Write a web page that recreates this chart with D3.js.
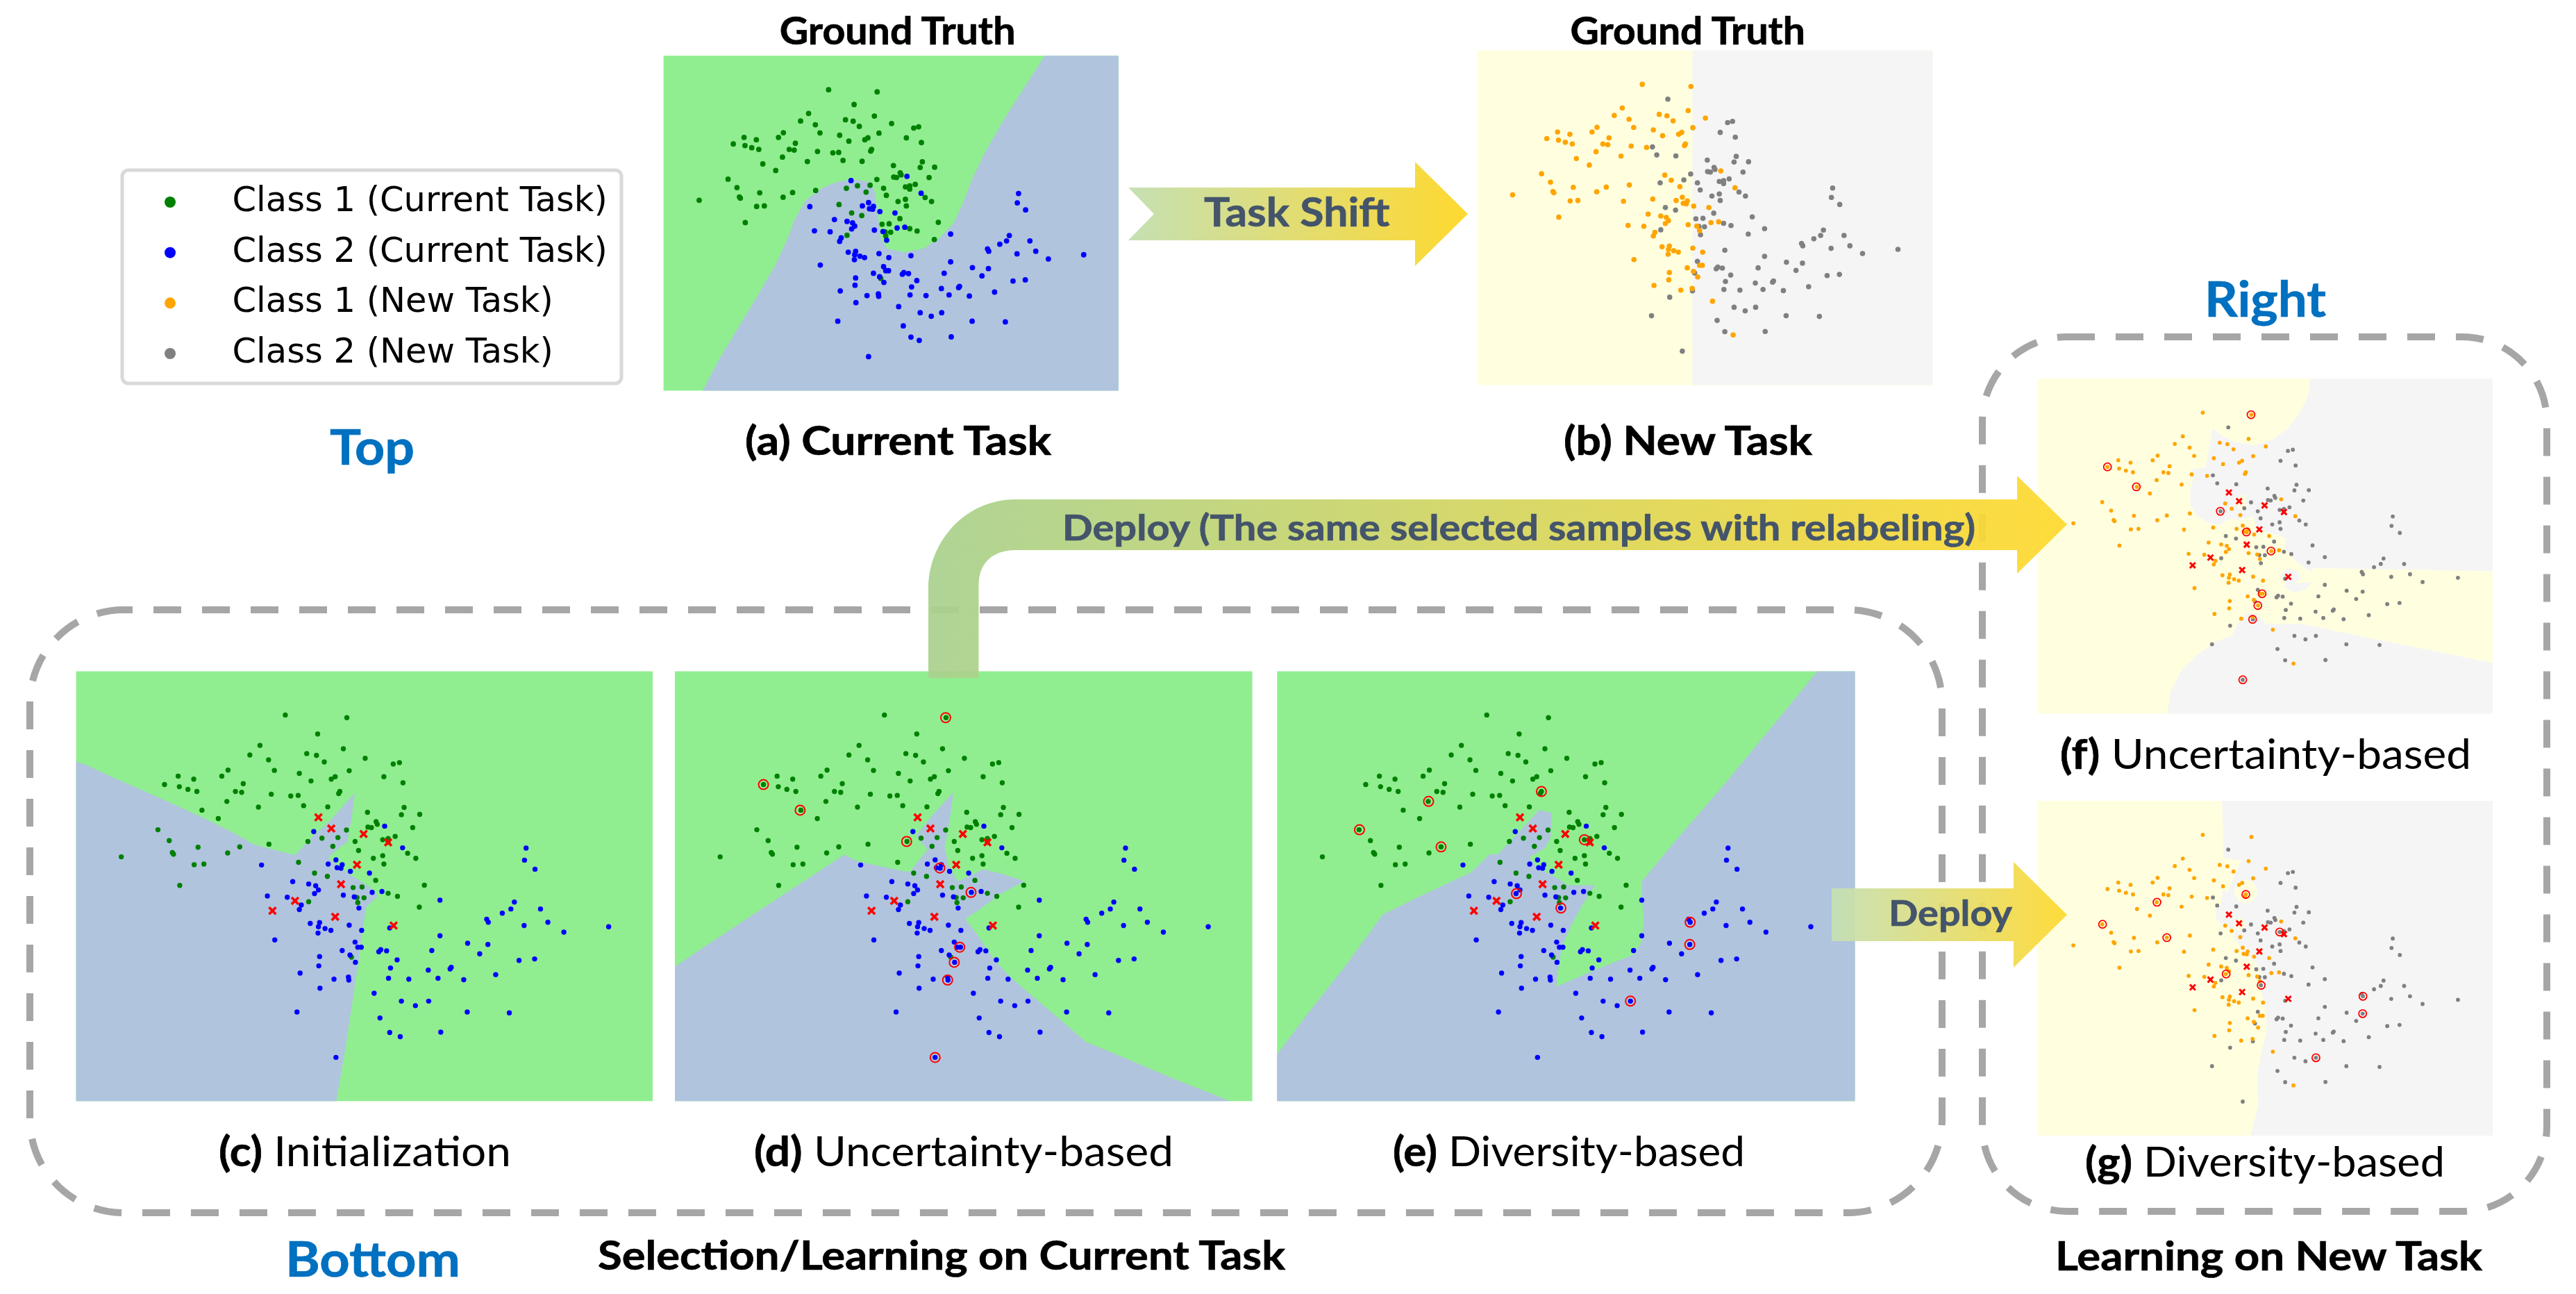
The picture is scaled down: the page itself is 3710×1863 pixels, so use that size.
<!DOCTYPE html>
<html><head><meta charset="utf-8">
<script src="https://cdn.jsdelivr.net/npm/d3@7/dist/d3.min.js"></script>
<style>html,body{margin:0;padding:0;background:#fff}svg{display:block}</style>
</head><body><div id="chart"></div>
<script>
// ---- data: projected sample positions, grouped by label on the current task / the new task
const class1ToClass1 = [[572,183],[730,192],[507,284],[721,295],[481,316],[627,311],[652,317],[529,332],[672,339],[777,327],[544,367],[736,368],[425,366],[409,386],[297,386],[337,396],[608,377],[700,388],[690,396],[638,402],[262,414],[300,421],[322,430],[345,437],[464,411],[444,437],[460,440],[536,446],[586,452],[712,437],[709,444],[422,470],[358,499],[503,489],[400,527],[245,564],[666,592],[274,600],[530,612],[348,622],[455,621],[694,619],[424,641],[282,640],[285,645],[151,654],[606,672],[338,680],[363,678],[301,749],[758,806]];
const class1ToClass2 = [[655,246],[849,346],[865,341],[825,388],[874,408],[605,450],[619,484],[681,488],[877,490],[783,506],[870,514],[917,513],[805,537],[808,546],[784,555],[793,557],[729,565],[899,557],[707,590],[630,603],[751,603],[836,593],[854,586],[822,597],[836,606],[760,633],[886,642],[798,659],[822,650],[907,659],[825,678],[647,708],[680,719],[804,732],[929,748],[746,756],[769,754],[836,775],[860,785],[756,789],[774,790],[632,803],[916,821],[742,987]];
const class2ToClass1 = [[827,552],[645,570],[873,624],[702,664],[682,678],[718,680],[705,690],[715,692],[511,681],[739,702],[788,708],[591,736],[632,744],[650,750],[657,764],[647,776],[795,772],[820,769],[721,781],[749,787],[526,784],[577,788],[613,814],[608,829],[636,875],[660,872],[657,886],[674,892],[689,898],[656,907],[736,881],[768,898],[545,930],[758,954],[767,954],[718,965],[738,980],[752,1004],[660,985],[658,1016],[610,1040],[697,1060],[734,1053],[800,1107],[867,1251]];
const class2ToClass2 = [[761,824],[969,798],[840,890],[969,916],[751,937],[812,969],[817,962],[832,966],[859,996],[948,965],[842,1023],[939,1030],[995,1026],[998,1021],[735,1063],[837,1057],[889,1060],[964,1057],[1030,1062],[661,1090],[1112,1045],[870,1133],[906,1148],[940,1133],[602,1169],[1039,1169],[1147,1172],[815,1189],[840,1237],[971,1236],[702,1320],[1040,941],[1092,945],[1071,976],[1172,998],[1212,993],[1190,625],[1186,665],[1213,695],[1160,804],[1151,827],[1129,841],[1227,827],[1089,861],[1093,871],[1185,882],[1246,871],[1287,904],[1402,886]];
const initialSamples = [[657,523],[690,560],[773,578],[836,606],[756,680],[715,745],[597,800],[539,833],[700,853],[850,882]];
const uncertaintySamples = [[729,192],[262,414],[356,499],[629,603],[714,691],[794,772],[765,954],[751,1004],[734,1063],[702,1320]];
const diversitySamples = [[712,437],[423,470],[246,564],[455,621],[822,597],[648,776],[762,824],[1093,871],[1092,945],[940,1133]];
const sampleDomainX = [35,1515], sampleDomainY = [38,1465];

// decision regions, vertices in the units of each panel's own frame
const regionA = [[1230,185],[1160,300],[1100,400],[1040,510],[1000,600],[975,670],[945,740],[900,790],[850,825],[790,838],[735,825],[715,790],[705,700],[697,640],[685,605],[640,597],[580,603],[530,625],[480,665],[445,730],[420,800],[385,880],[330,980],[270,1085],[210,1190],[157,1297],[1461,1297],[1461,185]];
const regionB = [[1076,167],[1521,167],[1521,1279],[1076,1279]];
const regionC = [[35,338],[60,348],[120,385],[200,430],[290,482],[370,530],[440,575],[490,612],[540,630],[597,648],[640,590],[690,530],[750,442],[742,530],[730,605],[700,635],[683,655],[700,675],[735,710],[790,755],[810,785],[780,820],[770,900],[760,1000],[745,1130],[725,1300],[703,1465],[35,1465]];
const regionD = [[22,1018],[150,910],[300,785],[467,647],[500,668],[560,685],[638,705],[685,630],[655,585],[695,520],[753,440],[745,520],[730,620],[742,690],[765,735],[800,715],[830,695],[880,710],[940,735],[880,775],[820,830],[785,860],[820,920],[860,995],[900,1050],[950,1105],[1030,1190],[1100,1268],[1200,1320],[1330,1390],[1480,1465],[22,1465]];
const regionE = [[17,1310],[100,1170],[200,1010],[295,845],[400,780],[527,705],[575,645],[597,645],[650,575],[705,498],[738,508],[735,590],[720,625],[680,655],[700,690],[740,715],[780,748],[852,748],[820,810],[790,880],[765,950],[755,1030],[750,1085],[850,1030],[950,980],[972,940],[980,870],[975,790],[975,735],[1050,620],[1200,400],[1350,170],[1435,38],[1534,38],[1534,1465],[17,1465]];
const regionF1 = [[913,45],[905,120],[880,190],[840,260],[790,310],[730,333],[670,320],[625,290],[597,258],[590,320],[575,428],[525,438],[535,480],[525,530],[525,590],[545,635],[585,670],[620,678],[650,650],[680,655],[730,640],[735,680],[770,705],[835,735],[830,780],[870,840],[920,885],[918,863],[1100,868],[1501,877],[1501,45]];
const regionF2 = [[452,1493],[460,1400],[495,1310],[550,1235],[610,1180],[660,1155],[685,1085],[710,1060],[740,1060],[770,1105],[885,1105],[1100,1165],[1501,1273],[1501,1493]];
const regionF3 = [[845,865],[875,885],[880,910],[860,930],[915,925],[900,955],[860,970],[825,945],[835,930],[818,900],[825,875]];
const holeF = [[680,555],[700,545],[708,590],[700,620],[680,605],[668,575]];
const regionG = [[627,39],[630,120],[632,200],[632,285],[690,298],[665,370],[645,435],[630,420],[625,490],[605,510],[610,550],[640,590],[670,590],[665,630],[685,665],[700,700],[740,740],[755,800],[755,870],[770,960],[772,1040],[755,1120],[740,1230],[745,1350],[720,1486],[1501,1486],[1501,39]];
const holeG1 = [[704,378],[730,390],[743,430],[730,470],[704,483],[680,470],[665,430],[680,390]];
const holeG2 = [[685,540],[705,560],[705,590],[680,600],[668,580],[670,555]];

const legendLabels = ["Class 1 (Current Task)","Class 2 (Current Task)","Class 1 (New Task)","Class 2 (New Task)"];

// ---- styling
const C = {green:"#008000",blue:"#0000ff",orange:"#ffa500",gray:"#808080",red:"#ff0000",
  lgreen:"#90ee90",lblue:"#b0c4de",lyellow:"#ffffe0",lgray:"#f5f5f5",dash:"#a6a6a6",
  accent:"#0070c0",arrowText:"#44546a"};
const W=3710,H=1863;
const svg=d3.select("#chart").append("svg").attr("width",W).attr("height",H).attr("viewBox",[0,0,W,H]);
const defs=svg.append("defs");
function grad(id,x1,x2,from,to){
  const g=defs.append("linearGradient").attr("id",id).attr("gradientUnits","userSpaceOnUse")
    .attr("x1",x1).attr("x2",x2).attr("y1",0).attr("y2",0);
  g.append("stop").attr("offset",0).attr("stop-color",from);
  g.append("stop").attr("offset",1).attr("stop-color",to);
}
grad("gMain",1337,2977,"#a9d18e","#ffd92f");
grad("gShift",1625,2114,"#c5e0b4","#ffd92f");
grad("gDeploy",2638,2977,"#c5e0b4","#ffd92f");

// ---- dashed group boxes
function dashed(x0,y0,x1,y1,r,off){
  svg.append("rect").attr("x",x0).attr("y",y0).attr("width",x1-x0).attr("height",y1-y0)
    .attr("rx",r).attr("ry",r).attr("fill","none").attr("stroke",C.dash).attr("stroke-width",10)
    .attr("stroke-dasharray","40 30").attr("stroke-dashoffset",off);
}
dashed(43,878,2797,1746,135,27);
dashed(2855,485,3668,1744,122,0);

// ---- panels
const lineGen=d3.line();
function panel(p){
  const [x0,y0,x1,y1]=p.box;
  const g=svg.append("g");
  const sx=d3.scaleLinear(sampleDomainX,[x0,x1]), sy=d3.scaleLinear(sampleDomainY,[y0,y1]);
  const fx=d3.scaleLinear(p.frameX,[x0,x1]), fy=d3.scaleLinear(p.frameY,[y0,y1]);
  const col=p.task==="current"?{bg:C.lgreen,alt:C.lblue,c1:C.green,c2:C.blue}
                              :{bg:C.lyellow,alt:C.lgray,c1:C.orange,c2:C.gray};
  g.append("rect").attr("x",x0).attr("y",y0).attr("width",x1-x0).attr("height",y1-y0).attr("fill",col.bg);
  const poly=(pts,fill)=>g.append("path").attr("d",lineGen(pts.map(d=>[fx(d[0]),fy(d[1])]))+"Z").attr("fill",fill);
  p.regions.forEach(r=>poly(r,col.alt));
  (p.holes||[]).forEach(r=>poly(r,col.bg));
  const dots=(data,fill)=>g.append("g").selectAll("circle").data(data).join("circle")
    .attr("cx",d=>sx(d[0])).attr("cy",d=>sy(d[1])).attr("r",p.r).attr("fill",fill);
  if(p.task==="current"){
    dots(class1ToClass1.concat(class1ToClass2),col.c1);
    dots(class2ToClass1.concat(class2ToClass2),col.c2);
  }else{
    dots(class2ToClass2.concat(class1ToClass2),col.c2);
    dots(class1ToClass1.concat(class2ToClass1),col.c1);
  }
  if(p.crosses){
    const sym=d3.symbol().type(d3.symbolX).size(p.crossSize);
    g.append("g").selectAll("path").data(p.crosses).join("path").attr("d",sym)
      .attr("transform",d=>`translate(${sx(d[0])},${sy(d[1])})`)
      .attr("fill","none").attr("stroke",C.red).attr("stroke-width",p.crossW);
  }
  if(p.rings){
    g.append("g").selectAll("circle").data(p.rings).join("circle")
      .attr("cx",d=>sx(d[0])).attr("cy",d=>sy(d[1])).attr("r",p.ringR)
      .attr("fill","none").attr("stroke",C.red).attr("stroke-width",p.ringW);
  }
}
panel({box:[955.6,80.2,1610.8,562.4],frameX:[34,1461],frameY:[185,1297],task:"current",r:3.9,regions:[regionA]});
panel({box:[2127,72.4,2783.6,554.6],frameX:[677,1521],frameY:[167,1279],task:"new",r:3.8,regions:[regionB]});
panel({box:[109.6,966.5,940,1585.3],frameX:[35,1515],frameY:[38,1465],task:"current",r:3.7,regions:[regionC],crosses:initialSamples,crossSize:66,crossW:3.6});
panel({box:[972,966.5,1803.6,1585.3],frameX:[22,1538],frameY:[38,1465],task:"current",r:3.7,regions:[regionD],crosses:initialSamples,crossSize:66,crossW:3.6,rings:uncertaintySamples,ringR:7,ringW:2});
panel({box:[1839.3,966.5,2671.5,1585.3],frameX:[17,1534],frameY:[38,1465],task:"current",r:3.7,regions:[regionE],crosses:initialSamples,crossSize:66,crossW:3.6,rings:diversitySamples,ringR:7,ringW:2});
panel({box:[2934.7,545,3590,1027.7],frameX:[33,1501],frameY:[45,1493],task:"new",r:2.9,regions:[regionF1,regionF2,regionF3],holes:[holeF],crosses:initialSamples,crossSize:43,crossW:3,rings:uncertaintySamples,ringR:5.5,ringW:1.8});
panel({box:[2934.7,1153,3590,1635],frameX:[33,1501],frameY:[39,1486],task:"new",r:2.9,regions:[regionG],holes:[holeG1,holeG2],crosses:initialSamples,crossSize:43,crossW:3,rings:diversitySamples,ringR:5.5,ringW:1.8});

// ---- arrows
svg.append("path").attr("fill","url(#gMain)").attr("fill-opacity",.93)
  .attr("d","M1337,976V847C1337,780 1390,719 1463,719H2905V685L2977,755L2905,826V792H1463C1430,792 1409.5,810 1409.5,843V976Z");
svg.append("path").attr("fill","url(#gShift)")
  .attr("d","M1625,270H2038V233L2114,308L2038,383V346H1625L1662,308Z");
svg.append("path").attr("fill","url(#gDeploy)").attr("fill-opacity",.93)
  .attr("d","M2638,1279H2900V1241L2977,1317L2900,1393V1355H2638Z");

// ---- text
const LATO="Lato, 'Open Sans', sans-serif";
function label(x0,x1,y,size,parts,fill){
  const col=fill||"#000";
  const t=svg.append("text").attr("x",x0).attr("y",y).attr("font-family",LATO).attr("font-size",size)
    .attr("fill",col).attr("textLength",x1-x0).attr("lengthAdjust","spacingAndGlyphs");
  parts.forEach(p=>{
    const s=t.append("tspan").attr("font-weight",p[1]?700:400).text(p[0]);
    if(p[1]) s.attr("stroke",col).attr("stroke-width",0.7);
  });
}
label(1122.7,1462.5,64,55,[["Ground Truth",1]]);
label(2261.5,2600,64,55,[["Ground Truth",1]]);
label(1073,1514,655,58,[["(a) Current Task",1]]);
label(2252,2610,655,58,[["(b) New Task",1]]);
label(315,736,1679,60,[["(c)",1],[" Initialization",0]]);
label(1086,1690,1679,60,[["(d)",1],[" Uncertainty-based",0]]);
label(2006,2513,1679,60,[["(e)",1],[" Diversity-based",0]]);
label(2967,3559,1107,60,[["(f)",1],[" Uncertainty-based",0]]);
label(3003,3521,1694,60,[["(g)",1],[" Diversity-based",0]]);
label(861,1851,1828,58,[["Selection/Learning on Current Task",1]]);
label(2960,3575,1829,58,[["Learning on New Task",1]]);
label(475,597,669,70,[["Top",1]],C.accent);
label(411,663,1838,70,[["Bottom",1]],C.accent);
label(3175,3350,456,70,[["Right",1]],C.accent);
label(1734,2001.5,326,58,[["Task Shift",1]],C.arrowText);
label(1530,2845,778,52,[["Deploy (The same selected samples with relabeling)",1]],C.arrowText);
label(2720,2898,1333,52,[["Deploy",1]],C.arrowText);

// ---- legend
svg.append("rect").attr("x",176).attr("y",245).attr("width",719).attr("height",307).attr("rx",9)
  .attr("fill","#fff").attr("stroke","#d9d9d9").attr("stroke-width",5);
const legendColors=[C.green,C.blue,C.orange,C.gray];
const legendY=d3.scalePoint().domain(legendLabels).range([291,509]);
const lg=svg.append("g");
lg.selectAll("circle").data(legendLabels).join("circle")
  .attr("cx",245).attr("cy",d=>legendY(d)).attr("r",8).attr("fill",(d,i)=>legendColors[i]);
lg.selectAll("text").data(legendLabels).join("text")
  .attr("x",334.5).attr("y",d=>legendY(d)+13).attr("font-family","'DejaVu Sans'").attr("font-size",49.5)
  .attr("fill","#000").text(d=>d);
</script></body></html>
